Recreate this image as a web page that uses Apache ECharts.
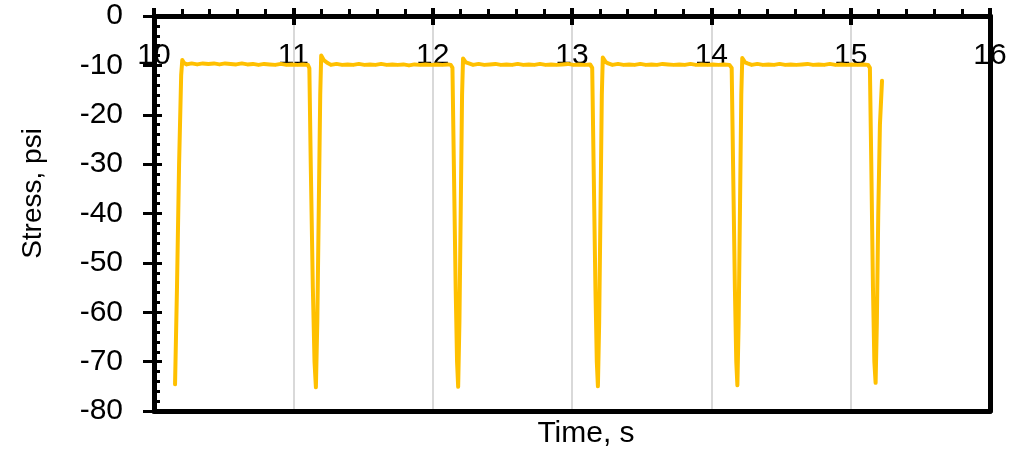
<!DOCTYPE html>
<html>
<head>
<meta charset="utf-8">
<script src="https://cdn.jsdelivr.net/npm/echarts@6/dist/echarts.min.js"></script>
<style>
  html, body { margin: 0; padding: 0; background: #fff; }
  #chart { width: 1011px; height: 452px; }
</style>
</head>
<body>
<div id="chart"></div>
<script>
// Stress trace over time: repeated negative pressure pulses (~1 per second)
const timeS = [
  10.151, 10.165, 10.180, 10.195, 10.203, 10.215, 10.235, 10.27, 10.31, 10.35,
  10.39, 10.43, 10.47, 10.51, 10.55, 10.59, 10.63, 10.67, 10.71, 10.75,
  10.79, 10.83, 10.87, 10.91, 10.95, 10.99, 11.03, 11.07, 11.105, 11.115,
  11.125, 11.140, 11.152, 11.162, 11.172, 11.183, 11.193, 11.200, 11.208, 11.220,
  11.24, 11.27, 11.31, 11.35, 11.39, 11.43, 11.47, 11.51, 11.55, 11.59,
  11.63, 11.67, 11.71, 11.75, 11.79, 11.83, 11.87, 11.91, 11.95, 11.99,
  12.03, 12.07, 12.11, 12.13, 12.142,
  12.152, 12.165, 12.175, 12.183, 12.192, 12.202, 12.211, 12.218, 12.226, 12.238,
  12.26, 12.29, 12.33, 12.37, 12.41, 12.45, 12.49, 12.53, 12.57, 12.61,
  12.65, 12.69, 12.73, 12.77, 12.81, 12.85, 12.89, 12.93, 12.97, 13.01,
  13.05, 13.09, 13.13, 13.145,
  13.155, 13.168, 13.178, 13.186, 13.195, 13.205, 13.214, 13.221, 13.229, 13.241,
  13.26, 13.29, 13.33, 13.37, 13.41, 13.45, 13.49, 13.53, 13.57, 13.61,
  13.65, 13.69, 13.73, 13.77, 13.81, 13.85, 13.89, 13.93, 13.97, 14.01,
  14.05, 14.09, 14.13, 14.146,
  14.156, 14.169, 14.179, 14.187, 14.196, 14.206, 14.215, 14.222, 14.230, 14.242,
  14.26, 14.29, 14.33, 14.37, 14.41, 14.45, 14.49, 14.53, 14.57, 14.61,
  14.65, 14.69, 14.73, 14.77, 14.81, 14.85, 14.89, 14.93, 14.97, 15.01,
  15.05, 15.09, 15.125, 15.138,
  15.148, 15.160, 15.170, 15.179, 15.188, 15.198, 15.210, 15.225
];

const stressPsi = [
  -74.6, -55, -30, -12, -8.9, -9.5, -9.8, -9.6, -9.8, -9.6,
  -9.7, -9.6, -9.8, -9.6, -9.7, -9.8, -9.6, -9.8, -9.7, -9.9,
  -9.7, -9.8, -9.9, -9.7, -9.9, -9.8, -9.9, -9.8, -9.9, -10.6,
  -30, -55, -70, -75.2, -62, -38, -16, -8.0, -8.1, -9.0,
  -9.4, -9.9, -9.7, -9.9, -9.8, -9.9, -9.7, -9.9, -9.8, -9.9,
  -9.7, -9.9, -9.8, -9.9, -9.8, -10.0, -9.8, -9.9, -9.8, -9.9,
  -9.8, -9.9, -9.8, -9.9, -10.5,
  -30, -55, -70, -75.1, -62, -38, -16, -8.6, -8.8, -9.4,
  -9.6, -9.9, -9.7, -9.9, -9.8, -9.7, -9.9, -9.8, -9.9, -9.7,
  -9.9, -9.8, -9.9, -9.7, -9.9, -9.8, -9.9, -9.8, -9.7, -9.9,
  -9.8, -9.9, -9.8, -10.5,
  -30, -55, -70, -75.0, -62, -38, -16, -8.4, -8.7, -9.3,
  -9.6, -9.9, -9.7, -9.9, -9.8, -9.9, -9.7, -9.9, -9.8, -9.9,
  -9.7, -9.8, -9.9, -9.8, -9.9, -9.7, -9.9, -9.8, -9.9, -9.8,
  -9.9, -9.8, -9.9, -10.5,
  -30, -55, -70, -74.8, -62, -38, -16, -8.5, -8.8, -9.4,
  -9.6, -9.9, -9.7, -9.9, -9.8, -9.9, -9.7, -9.9, -9.8, -9.9,
  -9.8, -9.7, -9.9, -9.8, -9.9, -9.7, -9.9, -9.8, -9.9, -9.8,
  -9.9, -9.8, -9.9, -10.5,
  -30, -55, -70, -74.3, -62, -40, -22, -13.1
];

const xTickRange = [10, 16];
const yTickRange = [-80, 0];

const FONT = '"Liberation Sans", Arial, sans-serif';
const INK = '#000';

const seriesData = timeS.map((t, i) => [t, stressPsi[i]]);

const chart = echarts.init(document.getElementById('chart'), null, { renderer: 'canvas' });

const baseX = { type: 'value', min: xTickRange[0], max: xTickRange[1], interval: 1, gridIndex: 0 };
const baseY = { type: 'value', min: yTickRange[0], max: yTickRange[1], interval: 10, gridIndex: 0 };

chart.setOption({
  animation: false,
  backgroundColor: '#fff',
  grid: { left: 154, right: 21, top: 16, bottom: 41, outerBoundsMode: 'none', containLabel: false },
  xAxis: [
    Object.assign({}, baseX, {
      position: 'top',
      axisLine: { show: true, onZero: false, lineStyle: { color: INK, width: 5 } },
      axisTick: { show: true, inside: false, length: 8, lineStyle: { color: INK, width: 4 } },
      minorTick: { show: true, splitNumber: 5, length: 7, lineStyle: { color: INK, width: 3 } },
      axisLabel: { inside: true, margin: 25, fontSize: 30, color: INK, fontFamily: FONT,
                   showMinLabel: true, showMaxLabel: true },
      splitLine: { show: true, lineStyle: { color: '#d9d9d9', width: 2 } },
      z: 0
    }),
    Object.assign({}, baseX, {
      position: 'top',
      axisLine: { show: false, onZero: false },
      axisTick: { show: true, inside: true, length: 9, lineStyle: { color: INK, width: 4 } },
      axisLabel: { show: false },
      splitLine: { show: false },
      z: 0
    }),
    Object.assign({}, baseX, {
      position: 'bottom',
      axisLine: { show: true, onZero: false, lineStyle: { color: INK, width: 5 } },
      axisTick: { show: false },
      axisLabel: { show: false },
      splitLine: { show: false },
      name: 'Time, s',
      nameLocation: 'middle',
      nameGap: 8,
      nameTextStyle: { fontSize: 30, color: INK, fontFamily: FONT, verticalAlign: 'top',
                       padding: [0, 0, 0, 28] },
      z: 1
    })
  ],
  yAxis: [
    Object.assign({}, baseY, {
      position: 'left',
      axisLine: { show: true, onZero: false, lineStyle: { color: INK, width: 5 } },
      axisTick: { show: true, inside: false, length: 11, lineStyle: { color: INK, width: 3 } },
      axisLabel: { margin: 31, fontSize: 30, color: INK, fontFamily: FONT },
      splitLine: { show: false },
      name: 'Stress, psi',
      nameLocation: 'middle',
      nameRotate: 90,
      nameGap: 107,
      nameTextStyle: { fontSize: 28, color: INK, fontFamily: FONT, padding: [0, 0, 0, 40] },
      z: 1
    }),
    Object.assign({}, baseY, {
      position: 'left',
      axisLine: { show: false, onZero: false },
      axisTick: { show: true, inside: true, length: 8, lineStyle: { color: INK, width: 3 } },
      minorTick: { show: true, splitNumber: 5, length: 6, lineStyle: { color: INK, width: 3 } },
      axisLabel: { show: false },
      splitLine: { show: false },
      z: 1
    }),
    Object.assign({}, baseY, {
      position: 'right',
      axisLine: { show: true, onZero: false, lineStyle: { color: INK, width: 5 } },
      axisTick: { show: false },
      axisLabel: { show: false },
      splitLine: { show: false },
      z: 3
    })
  ],
  series: [{
    type: 'line',
    xAxisIndex: 0,
    yAxisIndex: 0,
    data: seriesData,
    showSymbol: false,
    symbol: 'none',
    smooth: false,
    lineStyle: { color: '#FFC000', width: 4, join: 'round', cap: 'round' },
    z: 2
  }]
});
</script>
</body>
</html>
